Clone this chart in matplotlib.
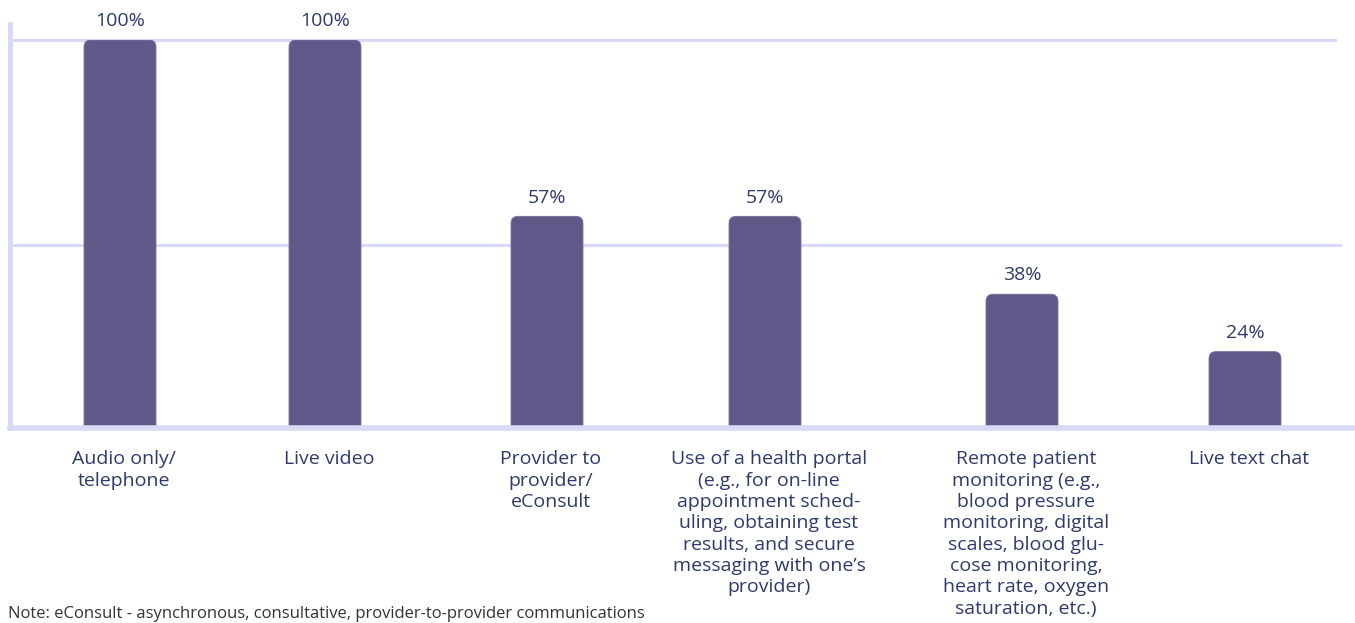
import matplotlib
matplotlib.use("Agg")
import matplotlib.pyplot as plt
from matplotlib.patches import FancyBboxPatch

# Dados do gráfico
categorias = [
    "Audio only/\ntelephone",
    "Live video",
    "Provider to\nprovider/\neConsult",
    "Use of a health portal\n(e.g., for on-line\nappointment sched-\nuling, obtaining test\nresults, and secure\nmessaging with one\u2019s\nprovider)",
    "Remote patient\nmonitoring (e.g.,\nblood pressure\nmonitoring, digital\nscales, blood glu-\ncose monitoring,\nheart rate, oxygen\nsaturation, etc.)",
    "Live text chat",
]
valores = [100, 100, 57, 57, 38, 24]
rotulos = ["100%", "100%", "57%", "57%", "38%", "24%"]
nota = "Note: eConsult - asynchronous, consultative, provider-to-provider communications"

# Layout (posições em pixels da figura)
W, H = 1355, 623
x_centros = [120, 325, 547, 765, 1022, 1245]
largura = 72
y_base = 5.37  # eixo corta as barras um pouco acima de zero

cor_barra = "#615789"
cor_texto = "#2e3a6b"
cor_linha = "#d7d9f6"

plt.rcParams["font.family"] = ["Open Sans", "DejaVu Sans"]

fig = plt.figure(figsize=(W / 100, H / 100), dpi=100)
ax = fig.add_axes([10 / W, (H - 428) / H, (W - 10) / W, 388 / H])
ax.set_xlim(10, W)
ax.set_ylim(y_base, 100)

# Linhas de grade e eixos
ax.plot([10, 1335], [100, 100], color=cor_linha, lw=2.2, zorder=1, clip_on=False)
ax.plot([10, 1340], [50, 50], color=cor_linha, lw=2.2, zorder=1, clip_on=False)
ax.plot([10, 10], [y_base, 104], color=cor_linha, lw=3.5, zorder=1, clip_on=False)

# Barras (arredondadas)
barras = ax.bar(x_centros, valores, width=largura, bottom=0, color="none")
aspecto = (100 - y_base) / 388.0
for b in barras:
    x0, y0 = b.get_x(), b.get_y()
    fb = FancyBboxPatch((x0, y0), b.get_width(), b.get_height(),
                        boxstyle="round,pad=0,rounding_size=7",
                        mutation_aspect=aspecto,
                        facecolor=cor_barra, edgecolor="#7a72a0", lw=0.6,
                        zorder=2)
    ax.add_patch(fb)
    b.remove()

ax.plot([10, W], [y_base, y_base], color=cor_linha, lw=4, zorder=3, clip_on=False)

for x, v, r in zip(x_centros, valores, rotulos):
    ax.annotate(r, (x, v), xytext=(0, 7), textcoords="offset points",
                ha="center", va="bottom", fontsize=14, color=cor_texto,
                annotation_clip=False)

ax.set_xticks([x + 4 for x in x_centros])
ax.set_xticklabels(categorias, fontsize=14, color=cor_texto,
                   linespacing=1.24)
ax.tick_params(axis="x", length=0, pad=16)
ax.set_yticks([])
for s in ax.spines.values():
    s.set_visible(False)

fig.text(8 / W, 1 / H, nota, ha="left", va="bottom",
         fontsize=12, color="#333333")

fig.savefig("out.png", dpi=100)
